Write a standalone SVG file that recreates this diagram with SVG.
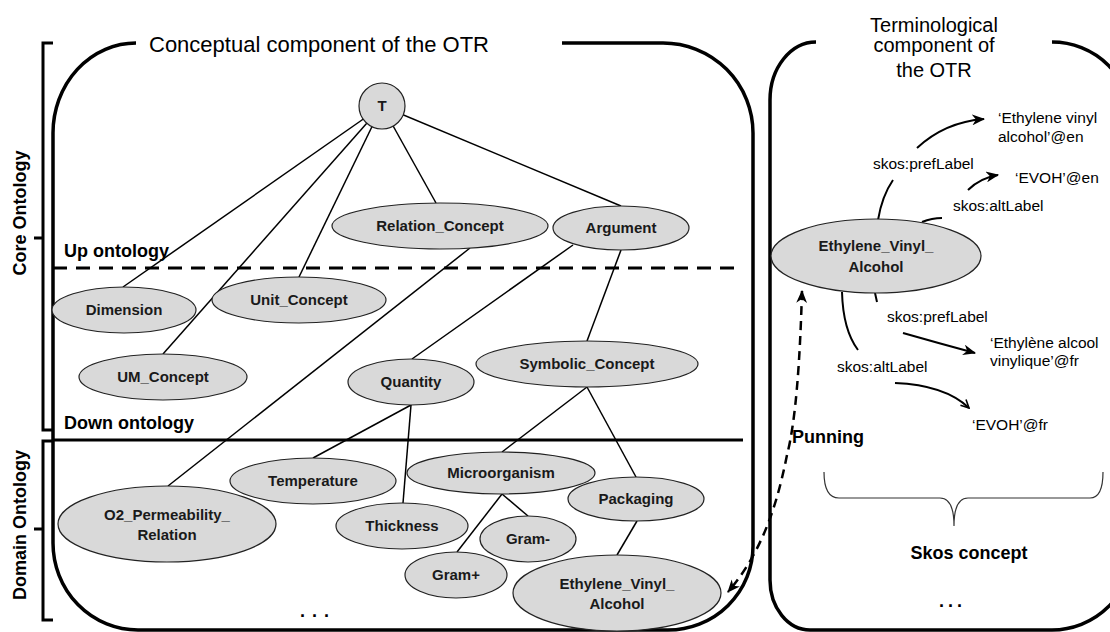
<svg xmlns="http://www.w3.org/2000/svg" width="1110" height="632" viewBox="0 0 1110 632">
<style>
.frame{fill:none;stroke:#000;stroke-width:3.5}
.brk{fill:none;stroke:#000;stroke-width:3}
.edge{fill:none;stroke:#000;stroke-width:1.5}
.sk{fill:none;stroke:#000;stroke-width:2}
.node ellipse,.node circle{fill:#d9d9d9;stroke:#222;stroke-width:1.2}
.nl{font-family:"Liberation Sans",Arial,sans-serif;font-weight:bold;font-size:15px;text-anchor:middle;fill:#1a1a1a}
.lab{font-family:"Liberation Sans",Arial,sans-serif;font-size:15.5px;fill:#000}
.big{font-family:"Liberation Sans",Arial,sans-serif;font-weight:bold;font-size:18px;fill:#000}
.title{font-family:"Liberation Sans",Arial,sans-serif;font-size:22px;fill:#000}
.title2{font-family:"Liberation Sans",Arial,sans-serif;font-size:20px;fill:#000;text-anchor:middle}
</style>
<defs>
<marker id="ah" viewBox="0 0 12 10" refX="11" refY="5" markerWidth="13" markerHeight="11" markerUnits="userSpaceOnUse" orient="auto-start-reverse"><path d="M0,0 L12,5 L0,10 L3.5,5 Z" fill="#000"/></marker>
<marker id="av" viewBox="0 0 10 10" refX="9" refY="5" markerWidth="10" markerHeight="10" markerUnits="userSpaceOnUse" orient="auto"><path d="M1,1 L9,5 L1,9" fill="none" stroke="#000" stroke-width="1.6"/></marker>
</defs>
<rect width="1110" height="632" fill="#fff"/>

<g id="frames">
<path class="frame" d="M136,43 A83,90 0 0 0 53,133 L53,543 A85,87 0 0 0 138,630 L668,630 A85,84 0 0 0 753,546 L753,133 A90,90 0 0 0 663,43 L562,43"/>
<path class="frame" d="M816,42 A46,58 0 0 0 770,100 L770,580 A40,50 0 0 0 810,630 L1052,630 A80,80 0 0 0 1132,550 L1132,122 A80,80 0 0 0 1052,42"/>
<path class="brk" d="M53,43 L43,43 L43,430 L53,430 M43,238 L34,238"/>
<path class="brk" d="M53,441 L43,441 L43,620 L53,620 M43,529 L34,529"/>
<line x1="53" y1="268" x2="743" y2="268" stroke="#000" stroke-width="3" stroke-dasharray="14 9"/>
<line x1="53" y1="440" x2="743" y2="440" stroke="#000" stroke-width="3"/>
<path d="M824,472 Q824,498 839,498 L940,498 Q954,498 954,526 Q954,498 968,498 L1090,498 Q1103,498 1103,472" fill="none" stroke="#333" stroke-width="1.2"/>
</g>

<g id="titles">
<text class="title" x="149" y="52">Conceptual component of the OTR</text>
<text class="title2" x="934" y="32">Terminological</text>
<text class="title2" x="934" y="52">component of</text>
<text class="title2" x="934" y="77">the OTR</text>
<text class="big" transform="translate(26,213) rotate(-90)" text-anchor="middle">Core Ontology</text>
<text class="big" transform="translate(26,525) rotate(-90)" text-anchor="middle">Domain Ontology</text>
<text class="big" x="64" y="257">Up ontology</text>
<text class="big" x="64" y="429">Down ontology</text>
<text class="big" x="300" y="617" letter-spacing="7">...</text>
<text class="big" x="939" y="607" letter-spacing="4">...</text>
<text class="big" x="969" y="559" text-anchor="middle">Skos concept</text>
<text class="big" x="792" y="443">Punning</text>
</g>

<g id="connectors">
<line class="edge" x1="382" y1="106" x2="123" y2="287"/>
<line class="edge" x1="382" y1="106" x2="163" y2="354"/>
<line class="edge" x1="382" y1="106" x2="299" y2="277"/>
<line class="edge" x1="382" y1="106" x2="436" y2="203"/>
<line class="edge" x1="382" y1="106" x2="621" y2="206"/>
<line class="edge" x1="470" y1="248" x2="168" y2="486"/>
<line class="edge" x1="573" y1="245" x2="412" y2="359"/>
<line class="edge" x1="621" y1="250" x2="587" y2="341"/>
<line class="edge" x1="411" y1="405" x2="313" y2="458"/>
<line class="edge" x1="411" y1="405" x2="403" y2="503"/>
<line class="edge" x1="587" y1="387" x2="502" y2="452"/>
<line class="edge" x1="587" y1="387" x2="636" y2="477"/>
<line class="edge" x1="502" y1="494" x2="457" y2="552"/>
<line class="edge" x1="502" y1="494" x2="528" y2="516"/>
<line class="edge" x1="637" y1="521" x2="617" y2="555"/>
<path class="sk" d="M878,220 Q882,196 893,180"/>
<path class="sk" d="M917,148 Q945,122 984,119" marker-end="url(#ah)"/>
<path class="sk" d="M922,222 Q932,218 942,218"/>
<path class="sk" d="M968,190 Q980,178 998,175" marker-end="url(#ah)"/>
<path class="sk" d="M875,293 L877,302"/>
<path class="sk" d="M903,333 Q938,343 975,353" marker-end="url(#ah)"/>
<path class="sk" d="M842,292 Q843,330 858,350"/>
<path class="sk" d="M895,383 Q945,385 969,408" marker-end="url(#av)"/>
<path d="M802,291 C800,360 796,420 787,455 C778,500 764,550 728,592" fill="none" stroke="#000" stroke-width="2.5" stroke-dasharray="9 6" marker-start="url(#ah)" marker-end="url(#ah)"/>
</g>

<g id="n-T" class="node"><circle cx="382" cy="106" r="23"/><text class="nl" x="382" y="111">T</text></g>
<g id="n-relation" class="node"><ellipse cx="440" cy="226" rx="108" ry="23"/><text class="nl" x="440" y="231">Relation_Concept</text></g>
<g id="n-argument" class="node"><ellipse cx="621" cy="228" rx="68" ry="22"/><text class="nl" x="621" y="233">Argument</text></g>
<g id="n-dimension" class="node"><ellipse cx="124" cy="310" rx="72" ry="23"/><text class="nl" x="124" y="315">Dimension</text></g>
<g id="n-unit" class="node"><ellipse cx="299" cy="300" rx="87" ry="23"/><text class="nl" x="299" y="305">Unit_Concept</text></g>
<g id="n-um" class="node"><ellipse cx="163" cy="377" rx="84" ry="23"/><text class="nl" x="163" y="382">UM_Concept</text></g>
<g id="n-quantity" class="node"><ellipse cx="411" cy="382" rx="63" ry="23"/><text class="nl" x="411" y="387">Quantity</text></g>
<g id="n-symbolic" class="node"><ellipse cx="587" cy="364" rx="111" ry="23"/><text class="nl" x="587" y="369">Symbolic_Concept</text></g>
<g id="n-temperature" class="node"><ellipse cx="313" cy="481" rx="83" ry="23"/><text class="nl" x="313" y="486">Temperature</text></g>
<g id="n-o2" class="node"><ellipse cx="167" cy="524" rx="109" ry="38"/><text class="nl" x="167" y="520">O2_Permeability_</text><text class="nl" x="167" y="540">Relation</text></g>
<g id="n-thickness" class="node"><ellipse cx="402" cy="526" rx="66" ry="23"/><text class="nl" x="402" y="531">Thickness</text></g>
<g id="n-micro" class="node"><ellipse cx="501" cy="473" rx="94" ry="21"/><text class="nl" x="501" y="478">Microorganism</text></g>
<g id="n-packaging" class="node"><ellipse cx="636" cy="499" rx="68" ry="22"/><text class="nl" x="636" y="504">Packaging</text></g>
<g id="n-gramminus" class="node"><ellipse cx="528" cy="539" rx="48" ry="23"/><text class="nl" x="528" y="544">Gram-</text></g>
<g id="n-gramplus" class="node"><ellipse cx="456" cy="575" rx="51" ry="23"/><text class="nl" x="456" y="580">Gram+</text></g>
<g id="n-evoh-left" class="node"><ellipse cx="617" cy="593" rx="104" ry="38"/><text class="nl" x="617" y="589">Ethylene_Vinyl_</text><text class="nl" x="617" y="609">Alcohol</text></g>
<g id="n-evoh-right" class="node"><ellipse cx="876" cy="256" rx="105" ry="37"/><text class="nl" x="876" y="251">Ethylene_Vinyl_</text><text class="nl" x="876" y="272">Alcohol</text></g>

<g id="skos-labels">
<text class="lab" x="998" y="123">‘Ethylene vinyl</text>
<text class="lab" x="998" y="142">alcohol’@en</text>
<text class="lab" x="873" y="169">skos:prefLabel</text>
<text class="lab" x="1015" y="183">‘EVOH’@en</text>
<text class="lab" x="953" y="211">skos:altLabel</text>
<text class="lab" x="887" y="322">skos:prefLabel</text>
<text class="lab" x="990" y="348">‘Ethylène alcool</text>
<text class="lab" x="990" y="366">vinylique’@fr</text>
<text class="lab" x="837" y="372">skos:altLabel</text>
<text class="lab" x="972" y="430">‘EVOH’@fr</text>
</g>
</svg>
